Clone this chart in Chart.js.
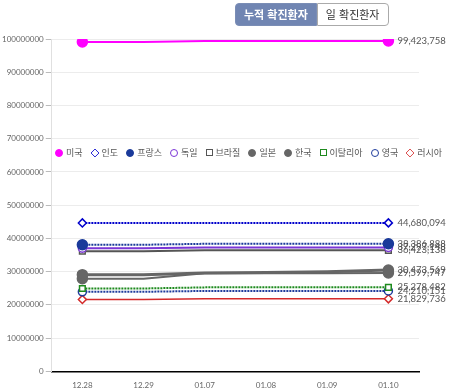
<!DOCTYPE html>
<html lang="ko">
<head>
    <meta charset="UTF-8">
    <title>누적 확진환자</title>
    <script src="https://cdn.jsdelivr.net/npm/chart.js@4.4.0/dist/chart.umd.min.js"></script>
    <style>
        body { margin: 0; font-family: Lato, "Noto Sans CJK KR", sans-serif; background: #fff; }
        #wrap { position: relative; width: 450px; height: 392px; }
        canvas { display: block; }
        .tabs { position: absolute; top: 3px; left: 235px; display: flex; font-family: "Noto Sans CJK KR", sans-serif; font-size: 11px; }
        .tabs span { display: block; height: 21px; line-height: 21px; padding: 0 8px; border: 1px solid #7a8db5; }
        .tabs .on { background: #7085b2; color: #fff; font-weight: bold; border-radius: 4px 0 0 4px; }
        .tabs .off { background: #fff; color: #333; border-color: #aaa; border-radius: 0 4px 4px 0; }
        #legend { position: absolute; top: 146px; left: 55px; width: 380px; display: flex; white-space: nowrap; font-family: "Noto Sans CJK KR", sans-serif; font-size: 9px; color: #555; }
        #legend div { display: flex; align-items: center; margin-right: 8px; flex: none; }
        #legend i { display: inline-block; box-sizing: border-box; width: 8px; height: 8px; margin-right: 3px; flex: none; }
    </style>
</head>
<body>
<div id="wrap">
    <canvas id="chart" width="450" height="392"></canvas>
    <div class="tabs"><span class="on">누적 확진환자</span><span class="off">일 확진환자</span></div>
    <div id="legend"></div>
</div>
<script>
    // 날짜
    const dates = ['12.28', '12.29', '01.07', '01.08', '01.09', '01.10'];

    // 국가별 누적 확진자
    const usa     = [99100000, 99100000, 99423758, 99423758, 99423758, 99423758];
    const india   = [44670000, 44670000, 44680094, 44680094, 44680094, 44680094];
    const france  = [38100000, 38100000, 38386888, 38386888, 38386888, 38386888];
    const germany = [37050000, 37050000, 37297148, 37297148, 37297148, 37297148];
    const brazil  = [36150000, 36150000, 36423138, 36423138, 36423138, 36423138];
    const japan   = [29100000, 29100000, 29600000, 29750000, 30000000, 30473569];
    const korea   = [27900000, 27900000, 29500000, 29530000, 29560000, 29599747];
    const italy   = [24950000, 24950000, 25278482, 25278482, 25278482, 25278482];
    const uk      = [23950000, 23950000, 24210151, 24210151, 24210151, 24210151];
    const russia  = [21650000, 21650000, 21829736, 21829736, 21829736, 21829736];

    const countries = ['미국', '인도', '프랑스', '독일', '브라질', '일본', '한국', '이탈리아', '영국', '러시아'];
    const yTicks = [0, 10000000, 20000000, 30000000, 40000000, 50000000, 60000000, 70000000, 80000000, 90000000, 100000000];

    // 스타일: [색, 포인트 모양, 채움, 점선, 굵기]
    const styles = [
        ['#ff00ff', 'circle', true, false, 2],
        ['#0000cc', 'rectRot', false, true, 2],
        ['#1a3a9a', 'circle', true, true, 2],
        ['#7b35d6', 'circle', false, false, 2],
        ['#555555', 'rect', false, false, 2],
        ['#666666', 'circle', true, false, 3],
        ['#666666', 'circle', true, false, 2],
        ['#1e8a1e', 'rect', false, true, 2],
        ['#1f3c9c', 'circle', false, true, 2],
        ['#d42a2a', 'rectRot', false, false, 1.5]
    ];
    const series = [usa, india, france, germany, brazil, japan, korea, italy, uk, russia];

    const datasets = series.map((data, i) => {
        const [color, shape, filled, dotted, width] = styles[i];
        return {
            label: countries[i],
            data: data,
            borderColor: color,
            backgroundColor: filled ? color : '#fff',
            borderWidth: width,
            borderDash: dotted ? [2, 1] : [],
            pointStyle: shape,
            pointRadius: data.map((v, j) => (j === 0 || j === data.length - 1) ? (filled ? 5 : 4) : 0),
            pointBorderWidth: 1.5,
            pointBackgroundColor: filled ? color : '#fff',
            tension: 0
        };
    });

    // 범례 (HTML)
    const legend = document.getElementById('legend');
    styles.forEach((s, i) => {
        const [color, shape, filled] = s;
        const item = document.createElement('div');
        const mark = document.createElement('i');
        if (shape === 'circle') mark.style.borderRadius = '50%';
        if (shape === 'rectRot') { mark.style.transform = 'rotate(45deg) scale(0.8)'; }
        if (shape === 'rect') { mark.style.width = '7px'; mark.style.height = '7px'; }
        mark.style.border = '1.5px solid ' + color;
        mark.style.background = filled ? color : '#fff';
        item.appendChild(mark);
        item.appendChild(document.createTextNode(countries[i]));
        legend.appendChild(item);
    });

    // 마지막 값 표시
    const lastValues = {
        id: 'lastValues',
        afterDatasetsDraw(chart) {
            const ctx = chart.ctx;
            ctx.save();
            ctx.font = '9.5px Lato, sans-serif';
            ctx.fillStyle = '#555';
            ctx.textBaseline = 'middle';
            chart.data.datasets.forEach((ds, i) => {
                const pts = chart.getDatasetMeta(i).data;
                const p = pts[pts.length - 1];
                const v = ds.data[ds.data.length - 1];
                ctx.fillText(v.toLocaleString('en-US'), p.x + 9, p.y);
            });
            ctx.restore();
        }
    };

    new Chart(document.getElementById('chart'), {
        type: 'line',
        data: { labels: dates, datasets: datasets },
        plugins: [lastValues],
        options: {
            responsive: false,
            animation: false,
            layout: { padding: { top: 39, right: 31, left: 0, bottom: -7 } },
            plugins: { legend: { display: false }, tooltip: { enabled: false } },
            scales: {
                x: {
                    offset: true,
                    grid: { display: false, drawTicks: false },
                    border: { color: '#000', width: 1.5 },
                    ticks: { color: '#666', font: { size: 8, family: 'Lato' }, padding: 9 }
                },
                y: {
                    min: 0,
                    max: 100000000,
                    afterBuildTicks(axis) { axis.ticks = yTicks.map(v => ({ value: v })); },
                    grid: { color: '#ececec', tickColor: '#bbb', tickLength: 6 },
                    border: { color: '#e0e0e0' },
                    ticks: { color: '#666', font: { size: 8, family: 'Lato' }, padding: 2, callback: v => String(v) }
                }
            }
        }
    });
</script>
</body>
</html>
